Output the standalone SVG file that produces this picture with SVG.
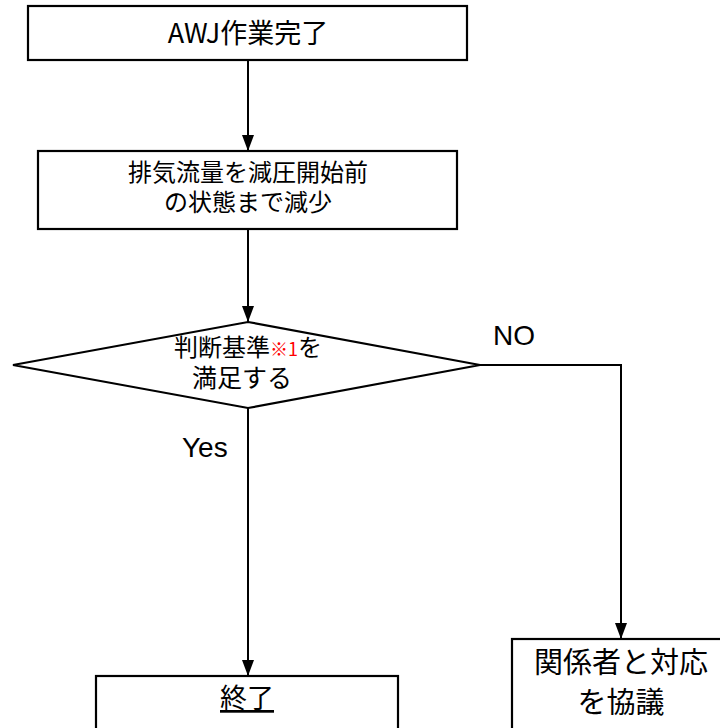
<svg xmlns="http://www.w3.org/2000/svg" width="720" height="728" viewBox="0 0 720 728">
<style>
.box{fill:#fff;stroke:#000;stroke-width:2.2}
.t{font-family:"Noto Sans CJK JP","Noto Sans",sans-serif;fill:#000;text-anchor:middle}
.lbl{font-family:"Liberation Sans",Arial,sans-serif;font-size:28px;fill:#000}
.conn{fill:none;stroke:#000;stroke-width:2}
</style>
<defs>
<marker id="ah" viewBox="0 0 16 12" refX="16" refY="6" markerWidth="16" markerHeight="12" markerUnits="userSpaceOnUse" orient="auto">
<path d="M0,0 L16,6 L0,12 Z" fill="#000"/>
</marker>
</defs>
<rect width="720" height="728" fill="#fff"/>
<g id="connectors">
<path class="conn" d="M248,60 V151" marker-end="url(#ah)"/>
<path class="conn" d="M248,229 V322" marker-end="url(#ah)"/>
<path class="conn" d="M248,408 V676" marker-end="url(#ah)"/>
<path class="conn" d="M480,365 H621 V639" marker-end="url(#ah)"/>
</g>
<g id="start">
<rect class="box" x="28" y="6" width="439" height="54" stroke-width="2.6"/>
<text class="t" x="248" y="43" font-size="27">AWJ作業完了</text>
</g>
<g id="reduce">
<rect class="box" x="38" y="151" width="419" height="78"/>
<text class="t" x="248" y="181" font-size="24">排気流量を減圧開始前</text>
<text class="t" x="248" y="211" font-size="24">の状態まで減少</text>
</g>
<g id="decision">
<polygon class="box" points="248,322 480,365 248,408 13,365"/>
<text class="t" x="248" y="356" font-size="24">判断基準<tspan fill="#ff0000" font-size="18">※1</tspan>を</text>
<text class="t" x="242" y="387" font-size="25">満足する</text>
</g>
<g id="labels">
<text class="lbl" x="182" y="457">Yes</text>
<text class="lbl" x="493" y="345">NO</text>
</g>
<g id="end">
<rect class="box" x="96" y="676" width="302" height="60"/>
<text class="t" x="247" y="708" font-size="27" text-decoration="underline">終了</text>
</g>
<g id="discuss">
<rect class="box" x="512" y="639" width="220" height="100"/>
<text class="t" x="621" y="673" font-size="29">関係者と対応</text>
<text class="t" x="621" y="713" font-size="29">を協議</text>
</g>
</svg>
